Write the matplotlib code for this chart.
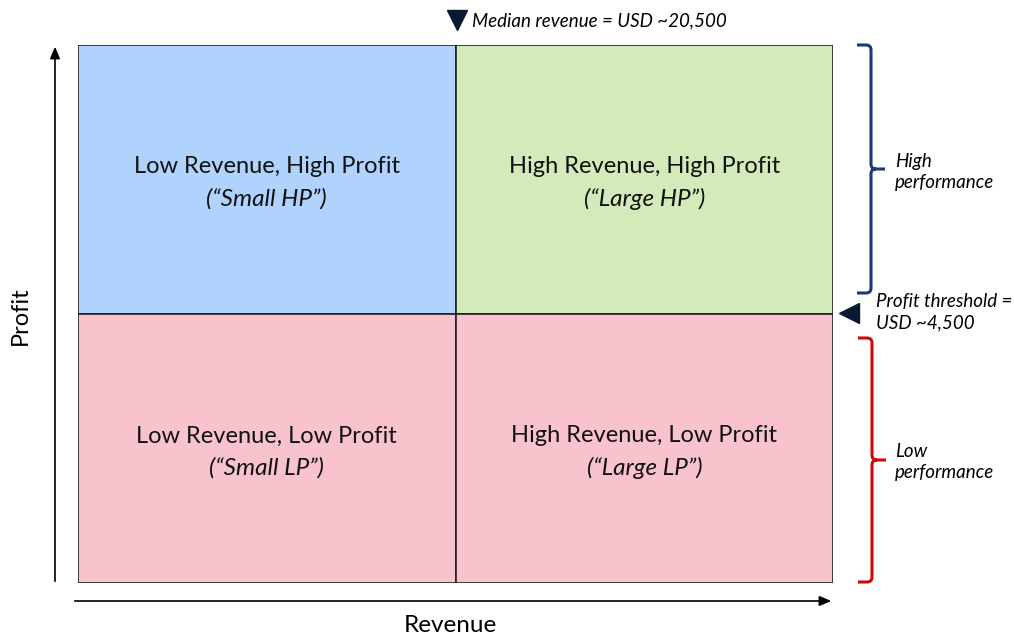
import matplotlib
matplotlib.use("Agg")
import matplotlib.pyplot as plt
from matplotlib.path import Path
from matplotlib.patches import PathPatch

plt.rcParams['font.family'] = ['Lato', 'DejaVu Sans']

# Data
quad_titles = ["Low Revenue, High Profit", "High Revenue, High Profit",
               "Low Revenue, Low Profit", "High Revenue, Low Profit"]
quad_subtitles = ["(\u201cSmall HP\u201d)", "(\u201cLarge HP\u201d)",
                  "(\u201cSmall LP\u201d)", "(\u201cLarge LP\u201d)"]
quad_x = [0, 1, 0, 1]
quad_y = [1, 1, 0, 0]
quad_colors = ["#B0D3FD", "#D3EBBA", "#F9C3CD", "#F9C3CD"]
median_label = "Median revenue = USD ~20,500"
threshold_label = "Profit threshold =\nUSD ~4,500"
perf_labels = ["High\nperformance", "Low\nperformance"]

W, H = 1014, 634
fig = plt.figure(figsize=(W / 100, H / 100), dpi=100)

L, R, T, B = 78, 833, 45, 583
ax = fig.add_axes([L / W, 1 - B / H, (R - L) / W, (B - T) / H])
ax.bar(quad_x, [1] * 4, width=1, bottom=quad_y, align='edge',
       color=quad_colors, edgecolor='#222222', linewidth=1.2)
ax.set_xlim(0, 2)
ax.set_ylim(0, 2)
ax.axis('off')
for x, y, t, s in zip(quad_x, quad_y, quad_titles, quad_subtitles):
    ax.text(x + 0.5, y + 0.5 + 0.047, t, ha='center', va='center', fontsize=17, color='#111111')
    ax.text(x + 0.5, y + 0.5 - 0.073, s, ha='center', va='center', fontsize=17.5,
            style='italic', color='#111111')

# overlay in pixel coordinates
ov = fig.add_axes([0, 0, 1, 1], facecolor='none')
ov.set_xlim(0, W)
ov.set_ylim(H, 0)
ov.axis('off')

# axis arrows
ov.annotate('', xy=(55, 44), xytext=(55, 584),
            arrowprops=dict(arrowstyle='-|>,head_length=0.7,head_width=0.3', color='black', lw=1.2))
ov.annotate('', xy=(834, 601), xytext=(72, 601),
            arrowprops=dict(arrowstyle='-|>,head_length=0.7,head_width=0.3', color='black', lw=1.2))
ov.text(450, 625, "Revenue", ha='center', va='center', fontsize=17.5)
ov.text(20, 316, "Profit", ha='center', va='center', fontsize=17, rotation=90)

# median marker
ov.plot([457], [20], marker='v', markersize=15, color='#0a1a33', linestyle='none')
ov.text(472, 21, median_label, ha='left', va='center', fontsize=13.5, style='italic')

# threshold marker
ov.plot([849], [313], marker='<', markersize=15, color='#0a1a33', linestyle='none')
ov.text(876, 312, threshold_label, ha='left', va='center', fontsize=13.5, style='italic',
        linespacing=1.3)


def bracket(x0, xv, xt, y0, y1, color):
    ym = (y0 + y1) / 2
    r = 5
    verts = [(x0, y0), (xv - r, y0), (xv, y0), (xv, y0 + r),
             (xv, ym - r), (xv, ym), (xv + r, ym), (xt, ym),
             (xv + r, ym), (xv, ym), (xv, ym + r),
             (xv, y1 - r), (xv, y1), (xv - r, y1), (x0, y1)]
    codes = [Path.MOVETO, Path.LINETO, Path.CURVE3, Path.CURVE3,
             Path.LINETO, Path.CURVE3, Path.CURVE3, Path.LINETO,
             Path.MOVETO, Path.CURVE3, Path.CURVE3,
             Path.LINETO, Path.CURVE3, Path.CURVE3, Path.LINETO]
    ov.add_patch(PathPatch(Path(verts, codes), fill=False, edgecolor=color, lw=2.2,
                           capstyle='butt'))


bracket(857, 871, 885, 45, 293, '#1a3a7a')
bracket(858, 872, 886, 338, 582, '#cc0a0a')

ov.text(895, 172, perf_labels[0], ha='left', va='center', fontsize=13.5, style='italic',
        linespacing=1.3)
ov.text(895, 462, perf_labels[1], ha='left', va='center', fontsize=13.5, style='italic',
        linespacing=1.3)

fig.savefig("out.png", dpi=100)
